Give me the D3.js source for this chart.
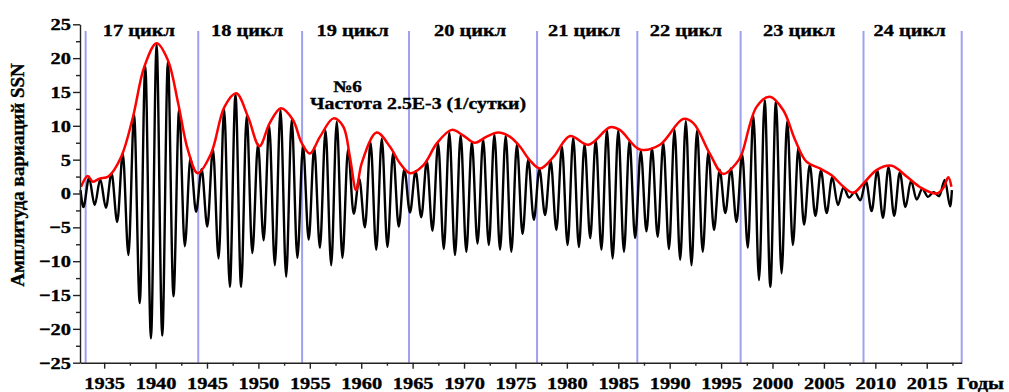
<!DOCTYPE html>
<html lang="ru">
<head>
  <meta charset="UTF-8">
  <title>Амплитуда вариаций SSN</title>
  <script src="https://d3js.org/d3.v7.min.js"></script>
  <style>
    body {
      margin: 0;
      background-color: #fff;
    }
    svg text {
      font-family: "Liberation Serif", "Times New Roman", serif;
      font-weight: bold;
      fill: #000;
      stroke: #000;
      stroke-width: 0.35px;
    }
    .axis path,
    .axis line {
      fill: none;
      stroke: #222;
      stroke-width: 1.4;
    }
  </style>
</head>
<body>
  <div id="chart"></div>

  <script>
    // Oscillation extrema (years and SSN variation)
    const swingYears = [
      1932.70, 1932.98, 1933.53, 1934.08, 1934.62, 1935.17, 1935.72, 1936.27, 1936.81, 1937.36,
      1937.91, 1938.46, 1939.00, 1939.55, 1940.10, 1940.65, 1941.20, 1941.74, 1942.29, 1942.84,
      1943.39, 1943.94, 1944.48, 1945.03, 1945.58, 1946.13, 1946.67, 1947.22, 1947.77, 1948.32,
      1948.86, 1949.41, 1949.96, 1950.51, 1951.05, 1951.60, 1952.15, 1952.70, 1953.24, 1953.79,
      1954.34, 1954.89, 1955.43, 1955.98, 1956.53, 1957.08, 1957.62, 1958.17, 1958.72, 1959.27,
      1959.81, 1960.36, 1960.91, 1961.46, 1962.00, 1962.55, 1963.10, 1963.65, 1964.19, 1964.74,
      1965.29, 1965.84, 1966.38, 1966.93, 1967.48, 1968.03, 1968.57, 1969.12, 1969.67, 1970.22,
      1970.76, 1971.31, 1971.86, 1972.41, 1972.95, 1973.50, 1974.05, 1974.60, 1975.14, 1975.69,
      1976.24, 1976.79, 1977.33, 1977.88, 1978.43, 1978.98, 1979.52, 1980.07, 1980.62, 1981.17,
      1981.72, 1982.27, 1982.81, 1983.36, 1983.90, 1984.45, 1985.00, 1985.55, 1986.09, 1986.64,
      1987.19, 1987.74, 1988.28, 1988.83, 1989.38, 1989.93, 1990.47, 1991.02, 1991.57, 1992.12,
      1992.66, 1993.21, 1993.76, 1994.31, 1994.86, 1995.41, 1995.95, 1996.50, 1997.05, 1997.60,
      1998.14, 1998.69, 1999.24, 1999.79, 2000.33, 2000.88, 2001.43, 2001.98, 2002.52, 2003.07,
      2003.62, 2004.17, 2004.71, 2005.26, 2005.81, 2006.36, 2006.90, 2007.45, 2008.00, 2008.55,
      2009.09, 2009.64, 2010.19, 2010.74, 2011.28, 2011.83, 2012.38, 2012.93, 2013.47, 2014.02,
      2014.57, 2015.12, 2015.66, 2016.21, 2016.76, 2017.28, 2017.45
    ];
    const swingValues = [
      0.5, -2.0, 2.3, -1.7, 2.1, -2.1, 3.0, -4.2, 5.9, -9.1,
      11.6, -16.2, 18.8, -21.4, 22.0, -21.0, 19.5, -15.2, 12.4, -7.8,
      5.2, -2.7, 3.6, -4.9, 6.6, -9.6, 12.5, -13.8, 14.6, -13.8,
      11.5, -8.8, 7.3, -6.9, 10.0, -10.6, 12.4, -12.3, 10.9, -9.5,
      7.0, -6.8, 6.8, -8.0, 9.3, -10.6, 10.6, -9.5, 6.5, -3.0,
      2.2, -5.0, 7.5, -8.3, 8.1, -7.9, 6.0, -4.9, 3.6, -2.8,
      3.3, -3.5, 4.8, -5.5, 7.4, -8.2, 9.0, -9.1, 8.6, -8.6,
      7.6, -7.4, 8.0, -7.6, 8.7, -8.3, 8.5, -8.6, 7.2, -6.0,
      5.0, -3.9, 3.6, -3.2, 4.8, -5.4, 6.9, -7.6, 8.2, -7.9,
      7.3, -6.6, 7.9, -8.3, 9.4, -9.6, 9.3, -8.6, 7.8, -6.6,
      6.3, -5.6, 6.7, -6.4, 7.5, -8.2, 9.4, -9.8, 10.7, -10.6,
      9.3, -8.6, 6.1, -5.4, 3.5, -2.9, 3.7, -4.2, 5.8, -8.0,
      11.5, -12.8, 13.8, -13.8, 13.6, -11.8, 10.7, -7.6, 6.8, -4.6,
      4.2, -3.3, 3.4, -2.9, 2.4, -1.7, 0.9, -0.6, 0.2, -1.0,
      1.8, -2.6, 3.4, -3.6, 3.9, -3.3, 3.1, -2.0, 1.9, -0.9,
      0.7, -0.5, 0.2, -0.4, 2.0, -1.9, 0.5
    ];

    // Red envelope
    const envYears = [
      1932.75, 1933.4, 1933.9, 1934.55, 1935.4, 1936.65, 1937.8, 1938.9, 1940.1, 1941.2,
      1942.2, 1943.15, 1944.1, 1945.4, 1946.7, 1947.85, 1949.0, 1950.1, 1951.1, 1952.2,
      1953.35, 1954.2, 1955.0, 1956.0, 1957.3, 1958.25, 1958.9, 1959.5, 1960.05, 1961.5,
      1962.8, 1963.75, 1964.75, 1966.05, 1967.35, 1968.8, 1969.9, 1971.05, 1972.2, 1973.3,
      1974.45, 1975.45, 1976.4, 1977.4, 1978.7, 1980.3, 1982.1, 1984.2, 1985.15, 1987.1,
      1989.05, 1991.3, 1992.3, 1993.9, 1995.2, 1996.5, 1997.0, 1998.45, 1999.75, 2001.05,
      2002.2, 2003.3, 2004.6, 2005.75, 2006.9, 2007.85, 2008.85, 2010.15, 2011.6, 2013.05,
      2014.5, 2015.95, 2016.6, 2017.1, 2017.4
    ];
    const envValues = [
      1.0, 2.6, 1.75, 2.2, 2.5, 5.4, 11.3, 18.7, 22.2, 19.7,
      13.3, 6.4, 3.0, 5.9, 12.8, 14.8, 11.3, 7.0, 10.4, 12.6,
      10.9, 7.5, 5.9, 8.4, 11.1, 9.9, 5.4, 0.5, 4.5, 9.0,
      6.9, 4.5, 3.0, 4.2, 7.4, 9.4, 8.6, 7.5, 8.4, 9.0,
      8.4, 6.9, 4.9, 3.7, 5.4, 8.5, 7.2, 9.8, 9.4, 6.5,
      7.2, 11.0, 10.4, 5.9, 2.9, 4.5, 5.8, 12.8, 14.3, 12.3,
      7.9, 4.7, 3.7, 2.7, 1.0, 0.1, 1.5, 3.5, 4.1, 2.5,
      0.8, 0.0, 0.8, 2.4, 1.0
    ];

    // Solar cycle boundaries and labels
    const cycleBounds = [1933.2, 1944.15, 1954.25, 1964.65, 1977.1, 1986.85, 1996.9, 2008.85, 2018.4];
    const cycleNames = ['17 цикл', '18 цикл', '19 цикл', '20 цикл', '21 цикл', '22 цикл', '23 цикл', '24 цикл'];

    // Tick values
    const xTicks = d3.range(1935, 2016, 5);
    const xMinorTicks = d3.range(1937.5, 2018, 5);
    const yTicks = d3.range(-25, 26, 5);
    const yMinorTicks = d3.range(-22.5, 25, 5);

    const width = 1009;
    const height = 392;
    const margin = { top: 24.3, right: 47.3, bottom: 29.3, left: 80 };
    const stretch = 1.2; // text in the original is horizontally stretched

    const svg = d3.select('#chart')
      .append('svg')
      .attr('width', width)
      .attr('height', height);

    const x = d3.scaleLinear()
      .domain([1932.65, 2018.4])
      .range([margin.left, width - margin.right]);

    const y = d3.scaleLinear()
      .domain([-25, 25])
      .range([height - margin.bottom, margin.top]);

    // Cycle boundary lines
    svg.append('g')
      .selectAll('line')
      .data(cycleBounds)
      .join('line')
      .attr('x1', d => x(d))
      .attr('x2', d => x(d))
      .attr('y1', y(24))
      .attr('y2', y(-25))
      .attr('stroke', '#9ea0f0')
      .attr('stroke-width', 2);

    // Oscillation
    const swing = swingYears.map((yr, i) => ({ yr, v: swingValues[i] }));
    const swingLine = d3.line()
      .x(d => x(d.yr))
      .y(d => y(d.v))
      .curve(d3.curveMonotoneX);

    svg.append('path')
      .datum(swing)
      .attr('fill', 'none')
      .attr('stroke', '#000')
      .attr('stroke-width', 2.4)
      .attr('d', swingLine);

    // Envelope
    const env = envYears.map((yr, i) => ({ yr, v: envValues[i] }));
    const envLine = d3.line()
      .x(d => x(d.yr))
      .y(d => y(d.v))
      .curve(d3.curveCatmullRom.alpha(0.5));

    svg.append('path')
      .datum(env)
      .attr('fill', 'none')
      .attr('stroke', '#ff0000')
      .attr('stroke-width', 2.5)
      .attr('d', envLine);

    // X axis
    const xAxis = svg.append('g')
      .attr('class', 'axis')
      .attr('transform', `translate(0, ${y(-25)})`)
      .call(d3.axisBottom(x).tickValues(xTicks).tickFormat(d3.format('d'))
        .tickSize(6).tickPadding(8).tickSizeOuter(0));
    xAxis.selectAll('text')
      .style('font-size', '17px')
      .attr('transform', `scale(${stretch},1)`);

    svg.append('g')
      .attr('class', 'axis')
      .attr('transform', `translate(0, ${y(-25)})`)
      .call(d3.axisBottom(x).tickValues(xMinorTicks).tickFormat('').tickSize(3).tickSizeOuter(0))
      .select('.domain').remove();

    // Y axis
    const yAxis = svg.append('g')
      .attr('class', 'axis')
      .attr('transform', `translate(${margin.left}, 0)`)
      .call(d3.axisLeft(y).tickValues(yTicks).tickSize(7).tickPadding(2).tickSizeOuter(0));
    yAxis.selectAll('text')
      .style('font-size', '17px')
      .attr('x', -9 / stretch)
      .attr('transform', `scale(${stretch},1)`);

    svg.append('g')
      .attr('class', 'axis')
      .attr('transform', `translate(${margin.left}, 0)`)
      .call(d3.axisLeft(y).tickValues(yMinorTicks).tickFormat('').tickSize(4).tickSizeOuter(0))
      .select('.domain').remove();

    // Stretched text helper
    function label(px, py, txt, anchor, size) {
      svg.append('text')
        .attr('transform', `translate(${px}, ${py}) scale(${stretch},1)`)
        .attr('text-anchor', anchor)
        .style('font-size', (size || 17) + 'px')
        .text(txt);
    }

    // Cycle labels
    cycleNames.forEach((name, i) => {
      label((x(cycleBounds[i]) + x(cycleBounds[i + 1])) / 2 - 3, 36, name, 'middle');
    });

    // Annotation
    label(333, 92, '№6', 'start', 16);
    label(310, 109, 'Частота 2.5E-3 (1/сутки)', 'start', 16.5);

    // X axis label
    label(957, y(-25) + 26, 'Годы', 'start');

    // Y axis label
    svg.append('text')
      .attr('transform', 'translate(17, 175) rotate(-90)')
      .attr('text-anchor', 'middle')
      .attr('dominant-baseline', 'central')
      .style('font-size', '19px')
      .text('Амплитуда вариаций SSN');
  </script>
</body>
</html>
